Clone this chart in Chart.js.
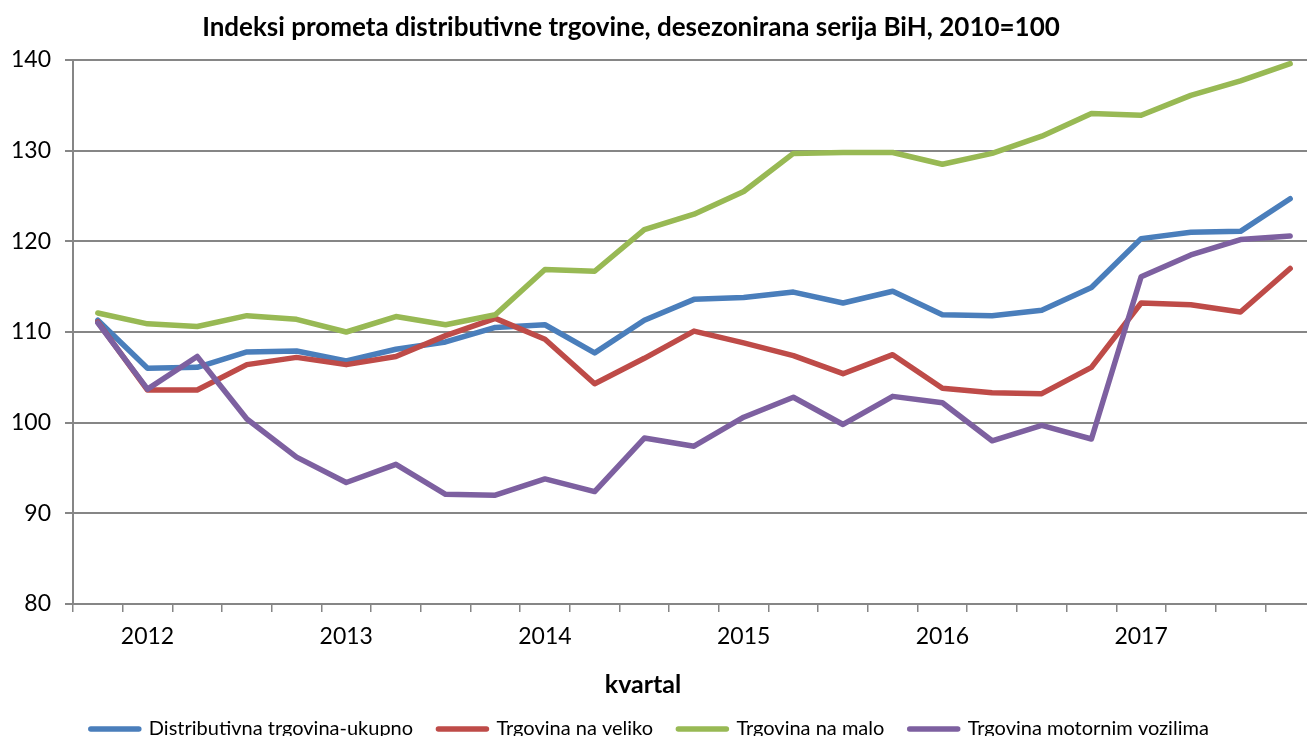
<!DOCTYPE html>
<html>
<head>
<meta charset="utf-8">
<script src="https://cdn.jsdelivr.net/npm/chart.js@4.4.1/dist/chart.umd.min.js"></script>
<style>
  body { margin: 0; background: #fff; }
  #wrap { width: 1307px; height: 736px; overflow: hidden; }
</style>
</head>
<body>
<div id="wrap"><canvas id="lineChart" width="1315" height="749"></canvas></div>
<script>
// quarters 2011 Q4 .. 2017 Q4
const quarters = ['2011 Q4',
  '2012 Q1', '2012 Q2', '2012 Q3', '2012 Q4',
  '2013 Q1', '2013 Q2', '2013 Q3', '2013 Q4',
  '2014 Q1', '2014 Q2', '2014 Q3', '2014 Q4',
  '2015 Q1', '2015 Q2', '2015 Q3', '2015 Q4',
  '2016 Q1', '2016 Q2', '2016 Q3', '2016 Q4',
  '2017 Q1', '2017 Q2', '2017 Q3', '2017 Q4'];
const yearLabels = ['2012', '2013', '2014', '2015', '2016', '2017'];

const ukupno = [111.3, 106.0, 106.1, 107.8, 107.9, 106.8, 108.1, 108.9, 110.5,
  110.8, 107.7, 111.3, 113.6, 113.8, 114.4, 113.2, 114.5,
  111.9, 111.8, 112.4, 114.9, 120.3, 121.0, 121.1, 124.7];
const naVeliko = [111.1, 103.6, 103.6, 106.4, 107.2, 106.4, 107.3, 109.6, 111.5,
  109.2, 104.3, 107.1, 110.1, 108.8, 107.4, 105.4, 107.5,
  103.8, 103.3, 103.2, 106.1, 113.2, 113.0, 112.2, 117.0];
const naMalo = [112.1, 110.9, 110.6, 111.8, 111.4, 110.0, 111.7, 110.8, 111.9,
  116.9, 116.7, 121.3, 123.0, 125.5, 129.7, 129.8, 129.8,
  128.5, 129.7, 131.6, 134.1, 133.9, 136.1, 137.7, 139.6];
const vozila = [111.0, 103.7, 107.3, 100.4, 96.2, 93.4, 95.4, 92.1, 92.0,
  93.8, 92.4, 98.3, 97.4, 100.6, 102.8, 99.8, 102.9,
  102.2, 98.0, 99.7, 98.2, 116.1, 118.5, 120.2, 120.6];

const chartTitle = 'Indeksi prometa distributivne trgovine, desezonirana serija BiH, 2010=100';
const axisTitle = 'kvartal';

const gridGray = '#868686';

function series(label, values, color, order) {
    return {
        label: label,
        data: values,
        borderColor: color,
        backgroundColor: color,
        borderWidth: 5.5,
        borderCapStyle: 'round',
        borderJoinStyle: 'round',
        pointRadius: 0,
        pointHoverRadius: 0,
        pointBorderWidth: 5,
        pointBorderColor: color,
        tension: 0,
        fill: false,
        order: order
    };
}

// chart title and x axis title, placed like in the original
const headerText = {
    id: 'headerText',
    afterDraw(chart) {
        const ctx = chart.ctx;
        ctx.save();
        ctx.fillStyle = '#000';
        ctx.textAlign = 'center';
        ctx.textBaseline = 'middle';
        ctx.font = 'bold 26px Lato';
        ctx.fillText(chartTitle, 631, 28);
        ctx.font = 'bold 25px Lato';
        ctx.fillText(axisTitle, 643, 685);
        ctx.restore();
    }
};

const ctxLine = document.getElementById('lineChart').getContext('2d');
const lineChart = new Chart(ctxLine, {
    type: 'line',
    data: {
        labels: quarters,
        datasets: [
            series('Distributivna trgovina-ukupno', ukupno, '#4A7EBB', 4),
            series('Trgovina na veliko', naVeliko, '#BE4B48', 3),
            series('Trgovina na malo', naMalo, '#98B954', 2),
            series('Trgovina motornim vozilima', vozila, '#7D60A0', 1)
        ]
    },
    options: {
        responsive: false,
        animation: false,
        devicePixelRatio: 1,
        layout: {
            padding: { top: 60, left: 0, right: 0, bottom: 0 }
        },
        plugins: {
            legend: {
                display: true,
                position: 'bottom',
                labels: {
                    usePointStyle: true,
                    pointStyle: 'line',
                    pointStyleWidth: 48,
                    padding: 10,
                    color: '#000',
                    font: { family: 'Lato', size: 20 },
                    sort(a, b) { return a.datasetIndex - b.datasetIndex; },
                    generateLabels(chart) {
                        const items = Chart.defaults.plugins.legend.labels.generateLabels(chart);
                        items.forEach(function (it) {
                            it.lineWidth = 5.5;
                            it.lineCap = 'round';
                            it.text = it.text + '   ';
                        });
                        return items;
                    }
                }
            },
            tooltip: { enabled: false }
        },
        scales: {
            x: {
                offset: true,
                afterFit(scale) { scale.height = 105; },
                grid: {
                    offset: true,
                    drawOnChartArea: false,
                    drawTicks: true,
                    tickLength: 8,
                    color: gridGray,
                    lineWidth: 1.5
                },
                border: { display: true, color: gridGray, width: 2 },
                ticks: {
                    autoSkip: false,
                    maxRotation: 0,
                    padding: 11,
                    color: '#000',
                    font: { family: 'Lato', size: 23 },
                    callback(value, index) {
                        const q = quarters[index];
                        if (q.endsWith('Q1')) {
                            const y = q.slice(0, 4);
                            return yearLabels.includes(y) ? y : '';
                        }
                        return '';
                    }
                }
            },
            y: {
                min: 80,
                max: 140,
                afterFit(scale) { scale.width = 73; },
                grid: {
                    color: gridGray,
                    lineWidth: 2,
                    drawTicks: true,
                    tickLength: 8
                },
                border: { display: true, color: gridGray, width: 2 },
                ticks: {
                    stepSize: 10,
                    padding: 14,
                    color: '#000',
                    font: { family: 'Lato', size: 23 }
                }
            }
        }
    },
    plugins: [headerText]
});
</script>
</body>
</html>
